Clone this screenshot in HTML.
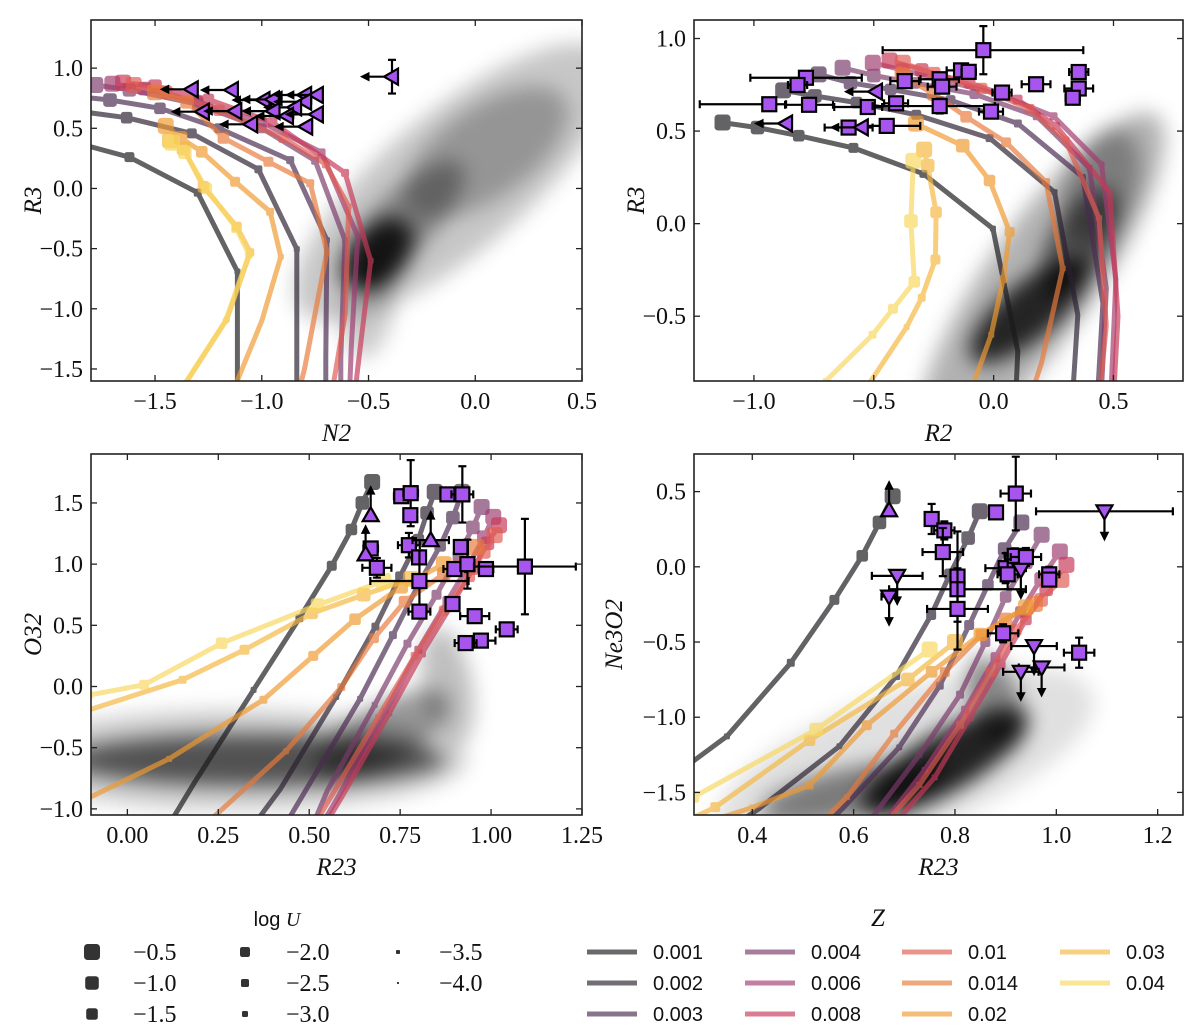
<!DOCTYPE html>
<html><head><meta charset="utf-8"><title>Line-ratio diagnostic diagrams</title>
<style>
html,body{margin:0;padding:0;background:#fff;}
svg{display:block;}
.tick{font-family:"Liberation Serif",serif;font-size:24px;fill:#111;}
.alab{font-family:"Liberation Serif",serif;font-style:italic;font-size:25px;fill:#111;}
.zlab{font-family:"Liberation Sans",sans-serif;font-size:20px;fill:#111;}
</style></head>
<body>
<svg id="fig" width="1200" height="1032" viewBox="0 0 1200 1032" xmlns="http://www.w3.org/2000/svg">
<defs>
<filter id="blur" x="-50%" y="-50%" width="200%" height="200%"><feGaussianBlur stdDeviation="10"/></filter>
</defs>
</svg>
<script>
// ---------- data ----------
const logU = [-0.5,-1.0,-1.5,-2.0,-2.5,-3.0,-3.5,-4.0];
const zLabels = ["0.001","0.002","0.003","0.004","0.006","0.008","0.01","0.014","0.02","0.03","0.04"];
const zColors = ["#1a1a1e","#2a2030","#4a2a50","#7a3a6a","#a03c70","#c83858","#e05a50","#e87a3a","#f09a30","#f5b840","#f8d860"];
const markerR = [8,6.8,5.8,5,4,3,2,1];

// Panel 1: N2 vs R3 model grid (per Z, 8 logU points)
const p1Model = [
 [[-2.4,0.45],[-2.1,0.42],[-1.85,0.37],[-1.62,0.26],[-1.30,-0.035],[-1.114,-0.69],[-1.114,-1.7],[-1.114,-2.5]],
 [[-2.1,0.68],[-1.85,0.64],[-1.633,0.588],[-1.328,0.458],[-1.016,0.159],[-0.836,-0.504],[-0.836,-1.495],[-0.836,-2.3]],
 [[-1.9,0.77],[-1.711,0.735],[-1.477,0.666],[-1.2,0.5],[-0.867,0.236],[-0.695,-0.429],[-0.70,-1.399],[-0.70,-2.2]],
 [[-1.78,0.86],[-1.62,0.82],[-1.3,0.70],[-1.0,0.5],[-0.75,0.23],[-0.61,-0.43],[-0.63,-1.41],[-0.63,-2.2]],
 [[-1.7,0.87],[-1.55,0.83],[-1.3,0.72],[-1.0,0.55],[-0.72,0.3],[-0.55,-0.4],[-0.58,-1.3],[-0.6,-2.2]],
 [[-1.65,0.88],[-1.5,0.85],[-1.25,0.74],[-0.95,0.55],[-0.61,0.13],[-0.49,-0.6],[-0.555,-1.56],[-0.58,-2.2]],
 [[-1.6,0.86],[-1.45,0.8],[-1.2,0.65],[-0.9,0.42],[-0.7,0.2],[-0.593,-0.15],[-0.609,-1.04],[-0.7,-2.0]],
 [[-1.5,0.80],[-1.35,0.72],[-1.18,0.42],[-0.969,0.222],[-0.773,0.043],[-0.695,-0.526],[-0.8,-1.5],[-0.9,-2.2]],
 [[-1.45,0.52],[-1.38,0.42],[-1.281,0.305],[-1.125,0.056],[-0.961,-0.193],[-0.911,-0.567],[-1.0,-1.1],[-1.15,-1.75]],
 [[-1.43,0.40],[-1.367,0.333],[-1.273,0.014],[-1.117,-0.318],[-1.054,-0.53],[-1.164,-1.088],[-1.35,-1.6],[-1.5,-2.0]],
 [[-1.42,0.38],[-1.36,0.30],[-1.26,0.0],[-1.12,-0.33],[-1.06,-0.55],[-1.17,-1.1],[-1.36,-1.62],[-1.5,-2.0]]
];
// Panel 2: R2 vs R3
const p2Model = [
 [[-1.131,0.546],[-0.985,0.519],[-0.813,0.475],[-0.585,0.409],[-0.293,0.269],[-0.003,-0.027],[0.101,-0.69],[0.09,-1.0]],
 [[-0.878,0.72],[-0.746,0.69],[-0.572,0.654],[-0.323,0.588],[-0.017,0.462],[0.254,0.17],[0.351,-0.493],[0.331,-0.9]],
 [[-0.73,0.806],[-0.597,0.761],[-0.43,0.725],[-0.18,0.667],[0.101,0.541],[0.372,0.251],[0.456,-0.43],[0.435,-0.9]],
 [[-0.63,0.842],[-0.5,0.80],[-0.33,0.76],[-0.08,0.70],[0.18,0.58],[0.40,0.30],[0.47,-0.35],[0.45,-0.9]],
 [[-0.504,0.869],[-0.38,0.83],[-0.2,0.77],[0.02,0.70],[0.25,0.58],[0.45,0.32],[0.51,-0.30],[0.49,-0.9]],
 [[-0.434,0.881],[-0.3,0.83],[-0.1,0.76],[0.1,0.67],[0.261,0.528],[0.484,0.17],[0.519,-0.5],[0.5,-0.95]],
 [[-0.379,0.869],[-0.25,0.81],[-0.05,0.73],[0.15,0.62],[0.30,0.45],[0.44,0.03],[0.47,-0.55],[0.44,-0.95]],
 [[-0.38,0.80],[-0.25,0.70],[-0.115,0.577],[0.052,0.439],[0.219,0.224],[0.288,-0.242],[0.2,-0.75],[0.15,-0.95]],
 [[-0.324,0.54],[-0.129,0.421],[-0.017,0.233],[0.067,-0.045],[0.04,-0.3],[-0.01,-0.6],[-0.08,-0.85],[-0.12,-1.0]],
 [[-0.29,0.40],[-0.275,0.313],[-0.24,0.062],[-0.243,-0.194],[-0.3,-0.4],[-0.363,-0.559],[-0.512,-0.85],[-0.6,-1.0]],
 [[-0.335,0.34],[-0.345,0.014],[-0.331,-0.314],[-0.42,-0.46],[-0.505,-0.6],[-0.70,-0.85],[-0.8,-0.95],[-0.9,-1.05]]
];
// Panel 3: R23 vs O32
const p3Model = [
 [[0.673,1.671],[0.646,1.5],[0.616,1.283],[0.562,0.987],[0.473,0.558],[0.347,-0.027],[0.184,-0.787],[0.10,-1.2]],
 [[0.845,1.59],[0.824,1.418],[0.80,1.2],[0.75,0.9],[0.682,0.489],[0.574,-0.086],[0.42,-0.841],[0.33,-1.2]],
 [[0.92,1.59],[0.895,1.38],[0.86,1.15],[0.80,0.83],[0.73,0.42],[0.64,-0.1],[0.49,-0.85],[0.42,-1.2]],
 [[0.974,1.467],[0.95,1.3],[0.91,1.07],[0.85,0.75],[0.77,0.35],[0.68,-0.15],[0.55,-0.85],[0.50,-1.2]],
 [[1.006,1.386],[0.98,1.22],[0.94,1.0],[0.88,0.7],[0.80,0.3],[0.71,-0.2],[0.58,-0.9],[0.52,-1.2]],
 [[1.022,1.318],[0.99,1.17],[0.95,0.96],[0.89,0.66],[0.81,0.27],[0.72,-0.22],[0.59,-0.9],[0.53,-1.2]],
 [[1.01,1.237],[0.98,1.1],[0.94,0.9],[0.87,0.62],[0.79,0.25],[0.69,-0.25],[0.55,-0.95],[0.5,-1.2]],
 [[0.96,1.141],[0.87,0.92],[0.762,0.693],[0.678,0.395],[0.588,-0.005],[0.436,-0.529],[0.243,-1.05],[0.15,-1.3]],
 [[0.87,1.0],[0.753,0.815],[0.626,0.55],[0.511,0.25],[0.374,-0.108],[0.115,-0.591],[-0.105,-0.909],[-0.2,-1.0]],
 [[0.78,0.88],[0.65,0.75],[0.508,0.598],[0.322,0.30],[0.152,0.055],[-0.105,-0.19],[-0.3,-0.4],[-0.5,-0.6]],
 [[0.704,0.862],[0.523,0.666],[0.259,0.354],[0.046,0.014],[-0.105,-0.07],[-0.3,-0.15],[-0.5,-0.2],[-0.7,-0.25]]
];
// Panel 4: R23 vs Ne3O2
const p4Model = [
 [[0.677,0.469],[0.651,0.295],[0.617,0.073],[0.562,-0.22],[0.476,-0.638],[0.35,-1.127],[0.2,-1.5],[0.1,-1.7]],
 [[0.849,0.369],[0.826,0.191],[0.79,-0.05],[0.753,-0.32],[0.684,-0.727],[0.572,-1.193],[0.413,-1.609],[0.35,-1.75]],
 [[0.931,0.295],[0.898,0.118],[0.865,-0.12],[0.828,-0.387],[0.77,-0.79],[0.69,-1.2],[0.58,-1.6],[0.52,-1.8]],
 [[0.971,0.213],[0.94,0.03],[0.90,-0.2],[0.86,-0.5],[0.81,-0.85],[0.73,-1.25],[0.64,-1.65],[0.58,-1.8]],
 [[1.007,0.102],[0.97,-0.08],[0.93,-0.3],[0.88,-0.6],[0.82,-0.95],[0.74,-1.35],[0.66,-1.7],[0.6,-1.85]],
 [[1.02,0.013],[0.98,-0.15],[0.94,-0.35],[0.89,-0.65],[0.83,-1.0],[0.76,-1.4],[0.67,-1.75],[0.62,-1.9]],
 [[1.01,-0.087],[0.97,-0.22],[0.92,-0.42],[0.87,-0.7],[0.81,-1.05],[0.73,-1.45],[0.65,-1.75],[0.6,-1.9]],
 [[0.958,-0.247],[0.90,-0.35],[0.852,-0.453],[0.78,-0.7],[0.68,-1.109],[0.587,-1.531],[0.52,-1.75],[0.48,-1.85]],
 [[0.94,-0.27],[0.85,-0.45],[0.754,-0.698],[0.626,-1.053],[0.513,-1.453],[0.4,-1.6],[0.327,-1.68],[0.28,-1.75]],
 [[0.80,-0.5],[0.707,-0.749],[0.513,-1.153],[0.327,-1.598],[0.2,-1.8],[0.15,-1.9],[0.1,-2.0],[0.05,-2.1]],
 [[0.75,-0.55],[0.526,-1.082],[0.284,-1.53],[0.1,-1.8],[0.0,-1.9],[-0.05,-2.0],[-0.1,-2.1],[-0.15,-2.2]]
];

// Observations: [x, y, xerrLow, xerrHigh, yerr, kind]  kind: s=square, l=left limit, d=down limit, u=up limit
const p1Obs = [
 [-1.328,0.824,0,0,0,"l"],[-1.140,0.818,0,0,0,"l"],[-0.992,0.735,0,0,0,"l"],[-0.948,0.74,0,0,0,"l"],
 [-0.797,0.777,0,0,0,"l"],[-0.742,0.777,0,0,0,"l"],[-0.797,0.721,0,0,0,"l"],[-0.844,0.674,0,0,0,"l"],
 [-1.276,0.638,0,0,0,"l"],[-1.124,0.643,0,0,0,"l"],[-0.945,0.643,0,0,0,"l"],[-0.882,0.602,0,0,0,"l"],
 [-0.742,0.616,0,0,0,"l"],[-1.050,0.533,0,0,0,"l"],[-0.792,0.514,0,0,0,"l"],[-0.390,0.929,0,0,0.14,"l"]
];
const p2Obs = [
 [-0.043,0.937,0.42,0.417,0.13,"s"],[-0.783,0.788,0.232,0.233,0,"s"],[-0.818,0.749,0.04,0.04,0,"s"],
 [-0.936,0.645,0.29,0.07,0.02,"s"],[-0.77,0.642,0.1,0.1,0,"s"],[-0.525,0.63,0.14,0.06,0,"s"],
 [-0.407,0.65,0.05,0.05,0,"s"],[-0.371,0.77,0.06,0.06,0,"s"],[-0.225,0.78,0.08,0.08,0.02,"s"],
 [-0.215,0.74,0.06,0.06,0.02,"s"],[-0.225,0.635,0.28,0.23,0.04,"s"],[-0.136,0.828,0.06,0.06,0.02,"s"],
 [-0.104,0.82,0.03,0.03,0,"s"],[0.035,0.708,0.04,0.04,0,"s"],[-0.011,0.605,0.05,0.05,0,"s"],
 [0.177,0.753,0.06,0.06,0,"s"],[0.355,0.819,0.04,0.04,0,"s"],[0.355,0.73,0.06,0.06,0,"s"],
 [0.33,0.68,0.03,0.03,0,"s"],[-0.446,0.528,0.14,0.14,0,"s"],[-0.605,0.519,0.1,0.1,0,"s"],
 [-0.866,0.541,0,0,0,"l"],[-0.491,0.713,0,0,0,"l"],[-0.55,0.52,0,0,0,"l"]
];
const p3Obs = [
 [0.753,1.555,0.02,0.02,0.05,"s"],[0.779,1.58,0.02,0.02,0.27,"s"],[0.778,1.40,0.0,0.0,0.05,"s"],
 [0.88,1.57,0.0,0.0,0,"s"],[0.921,1.57,0.03,0.03,0.23,"s"],[0.774,1.155,0.03,0.03,0.1,"s"],
 [0.802,1.055,0.0,0.0,0.05,"s"],[0.803,0.862,0.135,0.135,0.25,"s"],[0.803,0.612,0.03,0.03,0.04,"s"],
 [0.917,1.14,0.0,0.0,0.05,"s"],[0.899,0.96,0.03,0.03,0.05,"s"],[0.935,1.0,0.0,0.0,0.2,"s"],
 [0.986,0.96,0.02,0.02,0.05,"s"],[1.093,0.98,0.14,0.14,0.39,"s"],[0.894,0.674,0.0,0.0,0.0,"s"],
 [0.955,0.575,0.04,0.04,0,"s"],[1.043,0.467,0.03,0.03,0,"s"],[0.972,0.375,0.04,0.04,0,"s"],
 [0.93,0.355,0.03,0.03,0,"s"],[0.669,1.128,0.02,0.02,0.02,"s"],[0.686,0.97,0.04,0.04,0.08,"s"],
 [0.669,1.40,0,0,0,"u"],[0.655,1.08,0,0,0,"u"],[0.834,1.196,0.05,0.05,0,"u"]
];
const p4Obs = [
 [0.92,0.487,0.03,0.03,0.245,"s"],[0.881,0.362,0,0,0,"s"],[0.754,0.318,0.0,0.0,0.1,"s"],
 [0.779,0.242,0.02,0.02,0.06,"s"],[0.776,0.098,0.04,0.04,0.16,"s"],[0.805,-0.065,0.0,0.0,0.3,"s"],
 [0.805,-0.149,0.135,0.135,0,"s"],[0.805,-0.28,0.06,0.06,0.27,"s"],[0.9,-0.009,0.04,0.04,0.1,"s"],
 [0.918,0.073,0.02,0.02,0.05,"s"],[0.94,0.065,0.03,0.03,0.06,"s"],[0.904,-0.05,0.02,0.02,0.1,"s"],
 [0.986,-0.05,0.02,0.02,0.05,"s"],[0.986,-0.085,0.0,0.0,0.0,"s"],[0.895,-0.442,0.03,0.03,0.06,"s"],
 [1.045,-0.571,0.03,0.03,0.1,"s"],
 [1.095,0.369,0.135,0.135,0,"d"],[0.686,-0.06,0.05,0.05,0,"d"],[0.67,-0.198,0.015,0.015,0,"d"],
 [0.956,-0.527,0.045,0.045,0,"d"],[0.971,-0.669,0.045,0.045,0,"d"],[0.93,-0.698,0.035,0.035,0,"d"],
 [0.93,-0.02,0,0,0,"d"],[0.67,0.376,0,0,0,"u"]
];
// density blobs: [cx, cy, opacity]
const p1Dens = [[-0.1,0.05,0.22],[-0.45,-0.55,0.85],[-0.35,-0.3,0.35],[0.05,0.3,0.25],[-0.5,-1.0,0.2]];
const p2Dens = [[0.2,-0.3,0.3],[0.15,-0.47,0.8],[0.36,-0.1,0.55],[0.45,0.2,0.3]];
const p3Dens = [[0.3,-0.6,0.2],[0.35,-0.6,0.6],[0.7,-0.4,0.4],[0.88,0.0,0.25]];
const p4Dens = [[0.7,-1.3,0.12],[0.6,-1.5,0.45],[0.78,-1.3,0.85],[0.88,-0.9,0.4]];
const densShape = {
 p1:[[200,70,-40],[42,28,-50],[85,30,-45],[95,45,-35],[50,25,-80]],
 p2:[[200,55,-55],[75,28,-40],[60,30,-60],[60,35,-70]],
 p3:[[230,50,0],[190,26,0],[75,30,-30],[25,60,-10]],
 p4:[[200,70,-20],[95,25,-12],[95,30,-30],[25,50,-20]]
};

// ---------- drawing ----------
const NS = "http://www.w3.org/2000/svg";
const svg = document.getElementById("fig");
function mk(tag, attrs, parent){
  const e = document.createElementNS(NS, tag);
  for (const k in attrs) e.setAttribute(k, attrs[k]);
  (parent||svg).appendChild(e);
  return e;
}
function fmt(v, d){ const s = Math.abs(v).toFixed(d); return (v < -1e-9 ? "\u2212" : "") + s; }

const panels = [
 {id:"p1", L:91, R:582, T:20, B:381, xl:[-1.8,0.5], yl:[-1.6,1.4], xt:[-1.5,-1,-0.5,0,0.5], yt:[-1.5,-1,-0.5,0,0.5,1.0], xd:1, yd:1, xlab:"N2", ylab:"R3", model:p1Model, obs:p1Obs, dens:p1Dens},
 {id:"p2", L:694, R:1183, T:20, B:381, xl:[-1.25,0.79], yl:[-0.85,1.1], xt:[-1,-0.5,0,0.5], yt:[-0.5,0,0.5,1.0], xd:1, yd:1, xlab:"R2", ylab:"R3", model:p2Model, obs:p2Obs, dens:p2Dens},
 {id:"p3", L:91, R:582, T:454, B:815, xl:[-0.1,1.25], yl:[-1.05,1.9], xt:[0,0.25,0.5,0.75,1.0,1.25], yt:[-1,-0.5,0,0.5,1.0,1.5], xd:2, yd:1, xlab:"R23", ylab:"O32", model:p3Model, obs:p3Obs, dens:p3Dens},
 {id:"p4", L:694, R:1183, T:454, B:815, xl:[0.285,1.25], yl:[-1.65,0.75], xt:[0.4,0.6,0.8,1.0,1.2], yt:[-1.5,-1,-0.5,0,0.5], xd:1, yd:1, xlab:"R23", ylab:"Ne3O2", model:p4Model, obs:p4Obs, dens:p4Dens}
];

panels.forEach(function(P){
  const sx = v => P.L + (v - P.xl[0]) / (P.xl[1]-P.xl[0]) * (P.R-P.L);
  const sy = v => P.B - (v - P.yl[0]) / (P.yl[1]-P.yl[0]) * (P.B-P.T);
  const g = mk("g", {});
  
  
  const cp = mk("clipPath", {id:"clip-"+P.id}, g);
  mk("rect", {x:P.L, y:P.T, width:P.R-P.L, height:P.B-P.T}, cp);
  const plot = mk("g", {"clip-path":"url(#clip-"+P.id+")"}, g);

  // density
  const dg = mk("g", {filter:"url(#blur)"}, plot);
  
  
  P.dens.forEach(function(d, i){
    const sh = densShape[P.id][i];
    const cx = sx(d[0]), cy = sy(d[1]);
    mk("ellipse", {cx:cx, cy:cy, rx:sh[0], ry:sh[1], transform:"rotate("+sh[2]+" "+cx+" "+cy+")", fill:"#000", "fill-opacity":d[2]}, dg);
  });

  // model lines
  P.model.forEach(function(track, zi){
    const lg = mk("g", {opacity:0.68}, plot);
    
    
    const pts = track.map(p => sx(p[0]).toFixed(1)+","+sy(p[1]).toFixed(1)).join(" ");
    mk("polyline", {points:pts, fill:"none", stroke:zColors[zi], "stroke-width":5, "stroke-linejoin":"round"}, lg);
    track.forEach(function(p, ui){
      const r = markerR[ui];
      mk("rect", {x:sx(p[0])-r, y:sy(p[1])-r, width:2*r, height:2*r, rx:r*0.45, fill:zColors[zi]}, lg);
    });
  });

  // observations
  const og = mk("g", {}, plot);
  
  
  P.obs.forEach(function(o){
    const x = sx(o[0]), y = sy(o[1]);
    const pg = mk("g", {stroke:"#000", "stroke-width":2.2}, og);
    
    
    if (o[2] > 0 || o[3] > 0) {
      const x1 = sx(o[0]-o[2]), x2 = sx(o[0]+o[3]);
      mk("line", {x1:x1, y1:y, x2:x2, y2:y}, pg);
      mk("line", {x1:x1, y1:y-4, x2:x1, y2:y+4}, pg);
      mk("line", {x1:x2, y1:y-4, x2:x2, y2:y+4}, pg);
    }
    if (o[4] > 0) {
      const y1 = sy(o[1]+o[4]), y2 = sy(o[1]-o[4]);
      mk("line", {x1:x, y1:y1, x2:x, y2:y2}, pg);
      mk("line", {x1:x-4, y1:y1, x2:x+4, y2:y1}, pg);
      mk("line", {x1:x-4, y1:y2, x2:x+4, y2:y2}, pg);
    }
    const k = o[5];
    if (k === "l") {
      mk("line", {x1:x, y1:y, x2:x-26, y2:y}, pg);
      mk("polygon", {points:(x-31)+","+y+" "+(x-23)+","+(y-4)+" "+(x-23)+","+(y+4), fill:"#000", "stroke-width":1}, pg);
    } else if (k === "d") {
      mk("line", {x1:x, y1:y, x2:x, y2:y+24}, pg);
      mk("polygon", {points:x+","+(y+29)+" "+(x-4)+","+(y+21)+" "+(x+4)+","+(y+21), fill:"#000", "stroke-width":1}, pg);
    } else if (k === "u") {
      mk("line", {x1:x, y1:y, x2:x, y2:y-24}, pg);
      mk("polygon", {points:x+","+(y-29)+" "+(x-4)+","+(y-21)+" "+(x+4)+","+(y-21), fill:"#000", "stroke-width":1}, pg);
    }
    if (k === "s") {
      mk("rect", {x:x-7, y:y-7, width:14, height:14, fill:"#a855f0"}, pg);
    } else if (k === "l") {
      mk("polygon", {points:(x-8)+","+y+" "+(x+6)+","+(y-8)+" "+(x+6)+","+(y+8), fill:"#a855f0"}, pg);
    } else if (k === "d") {
      mk("polygon", {points:x+","+(y+8)+" "+(x-8)+","+(y-6)+" "+(x+8)+","+(y-6), fill:"#a855f0"}, pg);
    } else {
      mk("polygon", {points:x+","+(y-8)+" "+(x-8)+","+(y+6)+" "+(x+8)+","+(y+6), fill:"#a855f0"}, pg);
    }
  });

  // frame
  const fr = mk("rect", {x:P.L, y:P.T, width:P.R-P.L, height:P.B-P.T, fill:"none", stroke:"#222", "stroke-width":1.6}, g);
  
  

  // ticks
  P.xt.forEach(function(v){
    const x = sx(v);
    mk("line", {x1:x, y1:P.B, x2:x, y2:P.B-6, stroke:"#222", "stroke-width":1.3}, g);
    mk("line", {x1:x, y1:P.T, x2:x, y2:P.T+6, stroke:"#222", "stroke-width":1.3}, g);
    const t = mk("text", {x:x, y:P.B+28, "text-anchor":"middle", class:"tick"}, g);
    t.textContent = fmt(v, P.xd);
    
    
  });
  P.yt.forEach(function(v){
    const y = sy(v);
    mk("line", {x1:P.L, y1:y, x2:P.L+6, y2:y, stroke:"#222", "stroke-width":1.3}, g);
    mk("line", {x1:P.R, y1:y, x2:P.R-6, y2:y, stroke:"#222", "stroke-width":1.3}, g);
    const t = mk("text", {x:P.L-8, y:y+8, "text-anchor":"end", class:"tick"}, g);
    t.textContent = fmt(v, P.yd);
    
    
  });
  const xlab = mk("text", {x:(P.L+P.R)/2, y:P.B+60, "text-anchor":"middle", class:"alab"}, g);
  xlab.textContent = P.xlab;
  
  
  const yx = P.L - (P.ylab.length > 3 ? 80 : 58), yy = (P.T+P.B)/2;
  const ylab = mk("text", {x:yx, y:yy, "text-anchor":"middle", class:"alab", transform:"rotate(-90 "+yx+" "+yy+") translate(0 8)"}, g);
  ylab.textContent = P.ylab;
  
  
});

// ---------- legends ----------
const lg1 = mk("g", {});


const t1 = mk("text", {x:277, y:926, "text-anchor":"middle", class:"zlab", "font-size":"24"}, lg1);
t1.innerHTML = 'log <tspan font-family="Liberation Serif, serif" font-style="italic">U</tspan>';


const luCols = [92,245,398], luRows = [952,983,1014];
logU.forEach(function(u, i){
  const c = Math.floor(i/3), r = i%3;
  const cx = luCols[c], cy = luRows[r], rr = markerR[i];
  const e = mk("g", {}, lg1);
  
  
  mk("rect", {x:cx-rr, y:cy-rr, width:2*rr, height:2*rr, rx:rr*0.45, fill:"#333"}, e);
  const t = mk("text", {x:cx+41, y:cy+8, class:"tick"}, e);
  t.textContent = fmt(u, 1);
});
const lg2 = mk("g", {});


const t2 = mk("text", {x:878, y:926, "text-anchor":"middle", class:"alab", "font-size":"24"}, lg2);
t2.textContent = "Z";


const zCols = [587,745,902,1060];
zLabels.forEach(function(z, i){
  const c = Math.floor(i/3), r = i%3;
  const x = zCols[c], y = luRows[r];
  const e = mk("g", {}, lg2);
  
  
  mk("line", {x1:x, y1:y, x2:x+50, y2:y, stroke:zColors[i], "stroke-width":5, opacity:0.65}, e);
  const t = mk("text", {x:x+66, y:y+7, class:"zlab"}, e);
  t.textContent = z;
});
</script>
</body></html>
